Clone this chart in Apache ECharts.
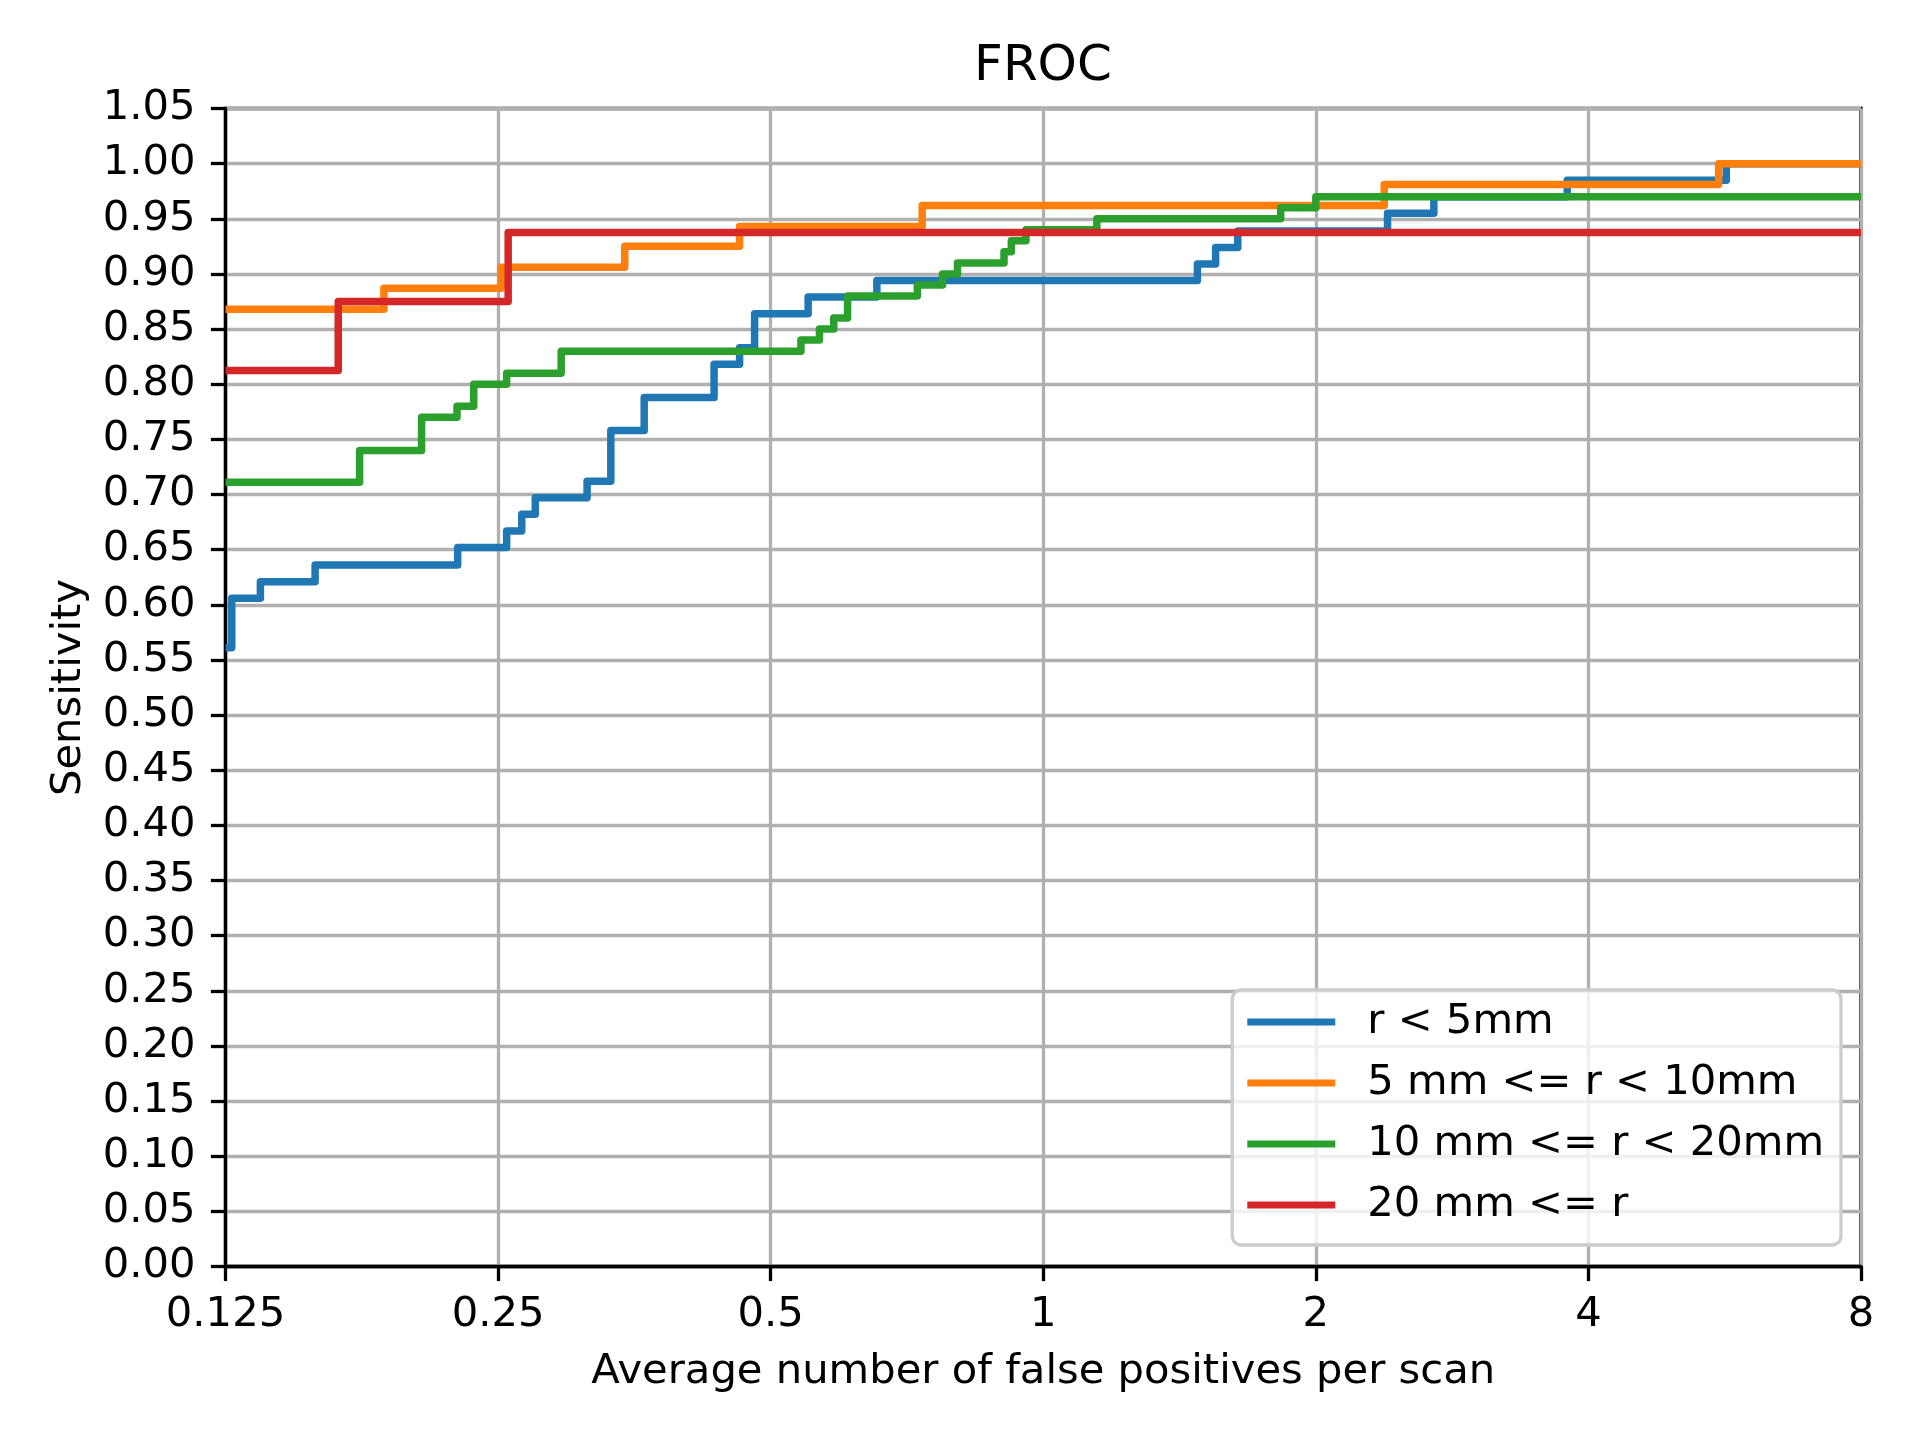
<!DOCTYPE html>
<html>
<head>
<meta charset="utf-8">
<script src="https://cdn.jsdelivr.net/npm/echarts@6/dist/echarts.min.js"></script>
<style>
  html, body { margin: 0; padding: 0; background: #ffffff; }
  #chart { width: 1920px; height: 1440px; }
</style>
</head>
<body>
<div id="chart"></div>
<script>
// ---- data ----
const seriesNames = ['r < 5mm', '5 mm <= r < 10mm', '10 mm <= r < 20mm', '20 mm <= r'];
const seriesColors = ['#1f77b4', '#ff7f0e', '#2ca02c', '#d62728'];

const blueX = [0.125, 0.127, 0.1366, 0.157, 0.2256, 0.2555, 0.2655, 0.2748, 0.3135, 0.333, 0.3625, 0.433, 0.462, 0.480, 0.550, 0.655, 1.48, 1.55, 1.64, 2.40, 2.70, 3.79, 5.68, 8];
const blueY = [0.561, 0.606, 0.621, 0.636, 0.652, 0.667, 0.682, 0.697, 0.712, 0.758, 0.788, 0.818, 0.833, 0.864, 0.879, 0.894, 0.909, 0.924, 0.939, 0.955, 0.970, 0.985, 1.000, 1.000];

const orangeX = [0.125, 0.187, 0.252, 0.345, 0.462, 0.735, 2.38, 5.57, 8];
const orangeY = [0.868, 0.887, 0.906, 0.925, 0.943, 0.962, 0.981, 1.000, 1.000];

const greenX = [0.125, 0.1758, 0.2058, 0.2252, 0.235, 0.2555, 0.2935, 0.540, 0.566, 0.587, 0.608, 0.726, 0.774, 0.804, 0.905, 0.922, 0.957, 1.146, 1.829, 2.0, 8];
const greenY = [0.711, 0.740, 0.770, 0.780, 0.800, 0.810, 0.830, 0.840, 0.850, 0.860, 0.880, 0.890, 0.900, 0.910, 0.920, 0.930, 0.940, 0.950, 0.960, 0.970, 0.970];

const redX = [0.125, 0.1665, 0.2565, 8];
const redY = [0.8125, 0.875, 0.9375, 0.9375];

const xTickValues = [0.125, 0.25, 0.5, 1, 2, 4, 8];

const titleText = 'FROC';
const xAxisName = 'Average number of false positives per scan';
const yAxisName = 'Sensitivity';

// ---- build ----
function pairs(xs, ys) { return xs.map((x, i) => [x, ys[i]]); }
const allData = [pairs(blueX, blueY), pairs(orangeX, orangeY), pairs(greenX, greenY), pairs(redX, redY)];

const FONT = 'DejaVu Sans';
const LW = 7.5;
const SPINE = 3.3;

const chart = echarts.init(document.getElementById('chart'), null, { renderer: 'canvas' });

const option = {
  animation: false,
  backgroundColor: '#ffffff',
  title: {
    text: titleText,
    left: 1043,
    textAlign: 'center',
    top: 42,
    padding: 0,
    textStyle: { fontFamily: FONT, fontSize: 50, fontWeight: 'normal', color: '#000000' }
  },
  grid: {
    left: 225.5,
    right: 1920 - 1861,
    top: 108.5,
    bottom: 1440 - 1266.5,
    show: true,
    borderColor: '#000000',
    borderWidth: SPINE,
    backgroundColor: 'transparent'
  },
  legend: {
    orient: 'vertical',
    right: 1920 - 1841,
    top: 990,
    backgroundColor: 'rgba(255,255,255,0.8)',
    borderColor: '#cccccc',
    borderWidth: 3.3,
    borderRadius: 9,
    padding: [11, 17, 19, 15],
    itemWidth: 88,
    itemHeight: 7,
    itemGap: 19,
    icon: 'rect',
    textStyle: { fontFamily: FONT, fontSize: 41.7, color: '#000000', lineHeight: 42, padding: [0, 0, 0, 27] },
    data: seriesNames
  },
  xAxis: {
    type: 'log',
    logBase: 2,
    min: xTickValues[0],
    max: xTickValues[xTickValues.length - 1],
    splitNumber: 6,
    name: xAxisName,
    nameLocation: 'middle',
    nameGap: 85,
    nameTextStyle: { fontFamily: FONT, fontSize: 41.7, color: '#000000' },
    axisLine: { show: true, lineStyle: { color: '#000000', width: SPINE } },
    axisTick: { show: true, inside: false, length: 14.6, lineStyle: { color: '#000000', width: SPINE } },
    minorTick: { show: false },
    axisLabel: {
      margin: 28,
      fontFamily: FONT, fontSize: 41.7, color: '#000000',
      formatter: function (v) { return String(Math.round(v * 1000) / 1000); }
    },
    splitLine: { show: true, lineStyle: { color: '#b0b0b0', width: SPINE } }
  },
  yAxis: {
    type: 'value',
    min: 0,
    max: 1.05,
    interval: 0.05,
    name: yAxisName,
    nameLocation: 'middle',
    nameRotate: 90,
    nameGap: 135,
    nameTextStyle: { fontFamily: FONT, fontSize: 41.7, color: '#000000' },
    axisLine: { show: true, lineStyle: { color: '#000000', width: SPINE } },
    axisTick: { show: true, inside: false, length: 14.6, lineStyle: { color: '#000000', width: SPINE } },
    axisLabel: {
      margin: 30,
      fontFamily: FONT, fontSize: 41.7, color: '#000000',
      formatter: function (v) { return v.toFixed(2); }
    },
    splitLine: { show: true, lineStyle: { color: '#b0b0b0', width: SPINE } }
  },
  series: seriesNames.map((name, i) => ({
    name: name,
    type: 'line',
    step: 'end',
    data: allData[i],
    showSymbol: false,
    symbol: 'none',
    clip: true,
    color: seriesColors[i],
    lineStyle: { color: seriesColors[i], width: LW, join: 'round', cap: 'butt' },
    itemStyle: { color: seriesColors[i] },
    emphasis: { disabled: true },
    z: 3 + i
  }))
};

chart.setOption(option);
</script>
</body>
</html>
